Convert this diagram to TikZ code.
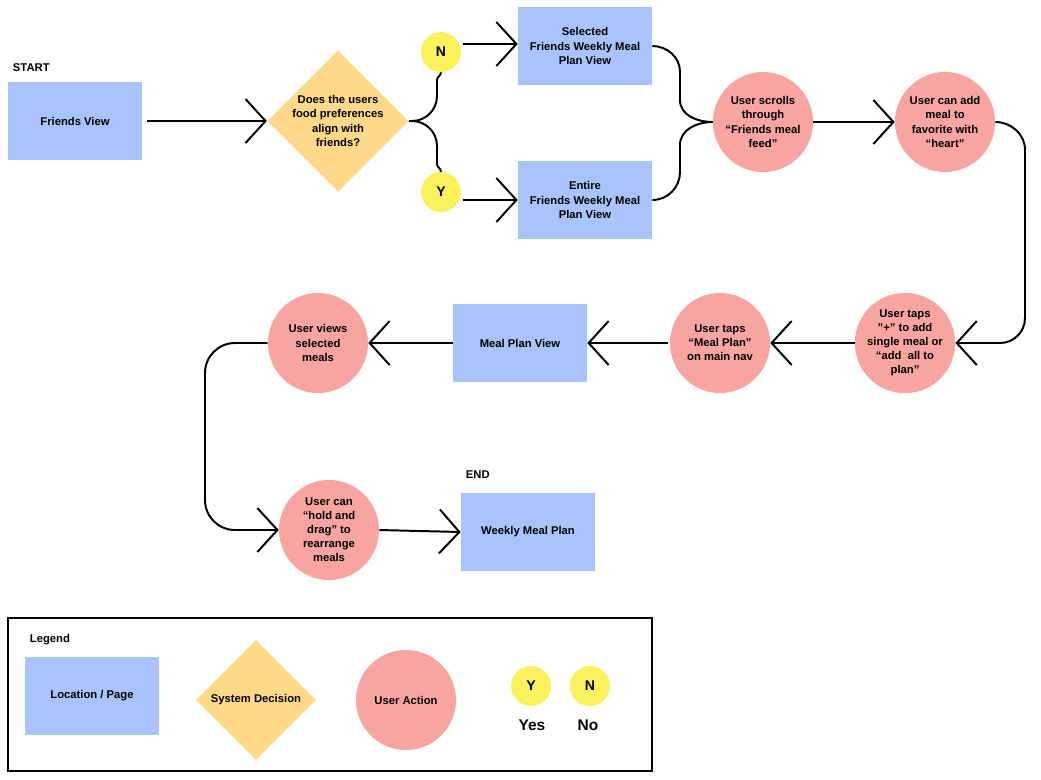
\documentclass[tikz,border=0pt]{standalone}
\usepackage{fontspec}
\setmainfont{Liberation Sans}
\usepackage{xcolor}
\usetikzlibrary{shapes.geometric,arrows.meta}
\definecolor{pageBlue}{HTML}{A9C4FC}
\definecolor{decisionYellow}{HTML}{FFD98A}
\definecolor{actionRed}{HTML}{F8A4A0}
\definecolor{ynYellow}{HTML}{FAF25A}

\begin{document}
\begin{tikzpicture}[x=0.025cm,y=-0.025cm,
    font=\fontsize{8}{10}\selectfont\bfseries,
    page/.style={fill=pageBlue, minimum width=3.35cm, minimum height=1.95cm, align=center},
    decision/.style={diamond, fill=decisionYellow, minimum width=3cm, minimum height=3cm, inner sep=0pt, align=center},
    action/.style={circle, fill=actionRed, minimum size=2.5cm, inner sep=0pt, align=center},
    yn/.style={circle, fill=ynYellow, minimum size=1cm, inner sep=0pt, font=\fontsize{10}{12}\selectfont\bfseries},
    flow/.style={line width=1.4pt, -{Straight Barb[length=0.5cm, width=1.1cm, line width=1.4pt]}},
    link/.style={line width=1.4pt}]
                \useasboundingbox (0,0) rectangle (1041,779);
                \node[anchor=west] (start) at (8,68) {START};
                \node[page] (friends) at (75,121) {Friends View};
                \node[decision] (align) at (338,121) {Does the users\\food preferences\\align with\\friends?};
                \node[yn] (no) at (441,52) {N};
                \node[yn] (yes) at (441,192) {Y};
                \node[page] (selected) at (585,46) {Selected\\Friends Weekly Meal\\Plan View};
                \node[page] (entire) at (585,200) {Entire\\Friends Weekly Meal\\Plan View};
                \node[action] (scroll) at (763,122) {User scrolls\\through\\``Friends meal\\feed''};
                \node[action] (heart) at (945,122) {User can add\\meal to\\favorite with\\``heart''};
                \node[action] (plus) at (905,343) {User taps\\"+" to add\\single meal or\\``add\ \ all to\\plan''};
                \node[action] (nav) at (720,343) {User taps\\``Meal Plan''\\on main nav};
                \node[page] (mealplan) at (520,343) {Meal Plan View};
                \node[action] (views) at (318,343) {User views\\selected\\meals};
                \node[action] (drag) at (329,530) {User can\\``hold and\\drag'' to\\rearrange\\meals};
                \node[page] (weekly) at (528,532) {Weekly Meal Plan};
                \node[anchor=west] (end) at (461,475) {END};

                \draw[flow] (friends.east) ++(5,0) -- (align.west);
                \draw[link] (align.east) -- (412,121) to[out=0,in=-90] (437,96) -- (437,80) to[out=90,in=-90] (no.south);
                \draw[link] (412,121) to[out=0,in=90] (437,146) -- (437,164) to[out=-90,in=90] (yes.north);
                \draw[flow] (no.east) ++(2,-8) -- (selected.west |- 0,44);
                \draw[flow] (yes.east) ++(2,8) -- (entire.west |- 0,200);
                \draw[link] (selected.east) to[out=0,in=90] (680,72) -- (680,100) to[out=-90,in=180] (scroll.west);
                \draw[link] (entire.east) to[out=0,in=-90] (680,172) -- (680,145) to[out=90,in=180] (scroll.west);
                \draw[flow] (scroll.east) -- (heart.west);
                \draw[link] (heart.east) to[out=0,in=90] (1025,150) -- (1025,318) to[out=-90,in=0] (1000,343);
                \draw[flow] (1000,343) -- (plus.east);
                \draw[flow] (plus.west) -- (nav.east);
                \draw[flow] (nav.west) ++(-2,0) -- (mealplan.east);
                \draw[flow] (mealplan.west) -- (views.east);
                \draw[link] (views.west) -- (235,343) to[out=180,in=90] (205,373) -- (205,500) to[out=-90,in=180] (235,530);
                \draw[flow] (235,530) -- (drag.west);
                \draw[flow] (drag.east) -- (weekly.west);

                % legend
                \draw[line width=0.8pt] (8,618) rectangle (652,771);
                \node[anchor=west] (legend) at (25,640) {Legend};
                \node[page] (legpage) at (92,696) {Location / Page};
                \node[decision] (legdecision) at (256,700) {System Decision};
                \node[action] (legaction) at (406,700) {User Action};
                \node[yn] (legyes) at (531,686) {Y};
                \node[yn] (legno) at (590,686) {N};
                \node[font=\fontsize{11}{13}\selectfont\bfseries] (yeslabel) at (532,725) {Yes};
                \node[font=\fontsize{11}{13}\selectfont\bfseries] (nolabel) at (588,725) {No};
            \end{tikzpicture}
\end{document}
